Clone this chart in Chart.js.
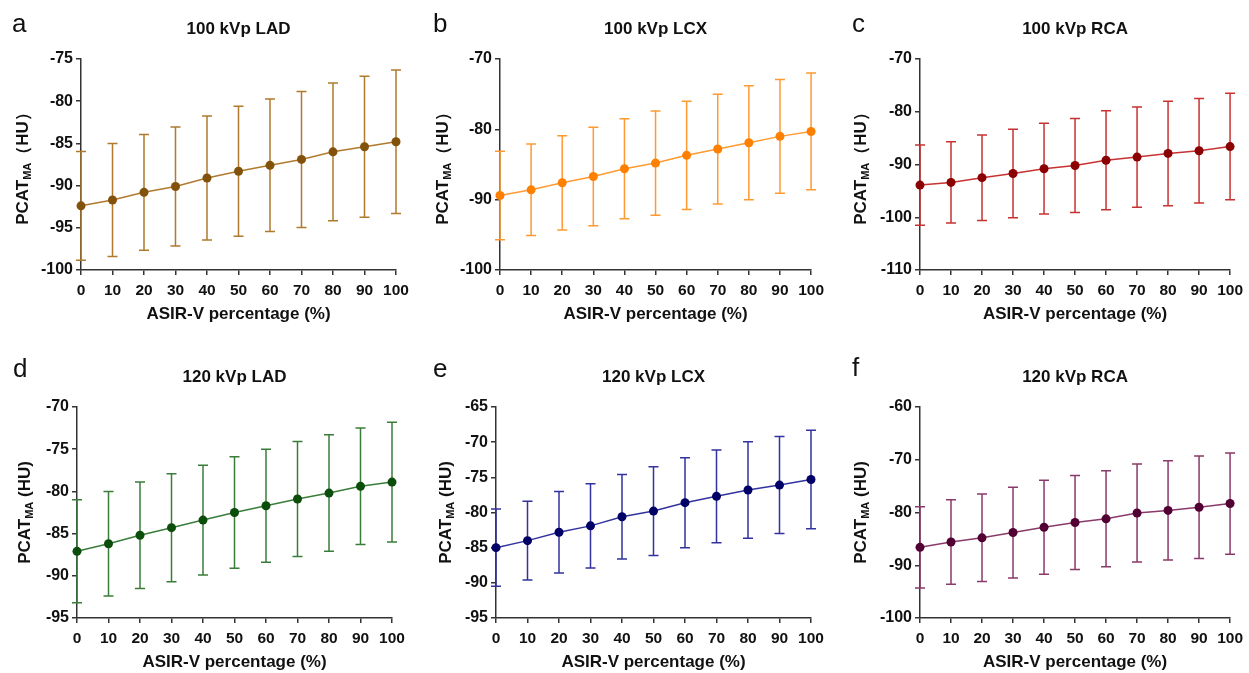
<!DOCTYPE html>
<html>
<head>
<meta charset="utf-8">
<script src="https://cdn.jsdelivr.net/npm/chart.js@4.4.1/dist/chart.umd.min.js"></script>
<style>
  html, body { margin: 0; padding: 0; background: #fff; overflow: hidden; width: 1249px; height: 673px; }
  .panel { position: absolute; }
</style>
</head>
<body>
<div id="wrap"></div>
<script>
// ASIR-V levels (x axis)
const asirLevels = [0, 10, 20, 30, 40, 50, 60, 70, 80, 90, 100];

// mean PCAT_MA and SD per panel (HU)
const mean100LAD = [-92.4, -91.7, -90.8, -90.1, -89.1, -88.3, -87.6, -86.9, -86.0, -85.4, -84.8];
const sd100LAD   = [6.45, 6.7, 6.85, 7.05, 7.35, 7.7, 7.85, 8.05, 8.15, 8.35, 8.5];
const mean100LCX = [-89.4, -88.6, -87.6, -86.7, -85.6, -84.8, -83.7, -82.8, -81.9, -81.0, -80.3];
const sd100LCX   = [6.3, 6.5, 6.7, 7.0, 7.1, 7.4, 7.7, 7.8, 8.1, 8.1, 8.3];
const mean100RCA = [-93.9, -93.4, -92.5, -91.7, -90.8, -90.2, -89.2, -88.6, -87.9, -87.4, -86.6];
const sd100RCA   = [7.6, 7.7, 8.1, 8.4, 8.6, 8.9, 9.4, 9.5, 9.9, 9.9, 10.1];
const mean120LAD = [-87.1, -86.2, -85.2, -84.3, -83.4, -82.5, -81.7, -80.9, -80.2, -79.4, -78.9];
const sd120LAD   = [6.1, 6.2, 6.3, 6.4, 6.5, 6.6, 6.7, 6.8, 6.9, 6.9, 7.1];
const mean120LCX = [-85.0, -84.0, -82.8, -81.9, -80.6, -79.8, -78.6, -77.7, -76.8, -76.1, -75.3];
const sd120LCX   = [5.5, 5.6, 5.8, 6.0, 6.0, 6.3, 6.4, 6.6, 6.85, 6.9, 7.0];
const mean120RCA = [-86.6, -85.6, -84.8, -83.8, -82.8, -81.9, -81.2, -80.1, -79.6, -79.0, -78.3];
const sd120RCA   = [7.7, 8.0, 8.3, 8.6, 8.9, 8.9, 9.1, 9.3, 9.4, 9.7, 9.6];

const panelTitles = ['100 kVp LAD', '100 kVp LCX', '100 kVp RCA', '120 kVp LAD', '120 kVp LCX', '120 kVp RCA'];
const panelLetters = ['a', 'b', 'c', 'd', 'e', 'f'];
const yMins  = [-100, -100, -110, -95, -95, -100];
const yMaxs  = [-75, -70, -70, -70, -65, -60];
const ySteps = [5, 10, 10, 5, 5, 10];
const xTitle = 'ASIR-V percentage (%)';

const means = [mean100LAD, mean100LCX, mean100RCA, mean120LAD, mean120LCX, mean120RCA];
const sds   = [sd100LAD, sd100LCX, sd100RCA, sd120LAD, sd120LCX, sd120RCA];

// colours: dots / line+bars
const dotColors = ['#83520a', '#ff8000', '#8b0000', '#0b4d0b', '#000066', '#520033'];
const barColors = ['#b07a2e', '#ff9a33', '#c83232', '#3a7d3a', '#3333a0', '#8a3a6a'];

// where each panel sits on the page (plotL/plotR = chart area edges, page px)
const frames = [
  { left: 0,   top: 0,   w: 420, plotL: 81,  plotR: 396,  ytx: 28, lx: 12, ly: 32, wide: true },
  { left: 420, top: 0,   w: 410, plotL: 500, plotR: 815,  ytx: 28, lx: 13, ly: 32, wide: true },
  { left: 830, top: 0,   w: 419, plotL: 920, plotR: 1234, ytx: 36, lx: 22, ly: 32, wide: true },
  { left: 0,   top: 348, w: 420, plotL: 77,  plotR: 392,  ytx: 30, lx: 13, ly: 29, wide: false },
  { left: 420, top: 348, w: 410, plotL: 496, plotR: 811,  ytx: 31, lx: 13, ly: 29, wide: false },
  { left: 830, top: 348, w: 419, plotL: 920, plotR: 1234, ytx: 36, lx: 22, ly: 28, wide: false }
];
const H = 330;
const FONT = "'Liberation Sans', Arial, sans-serif";

// error bars under the points, letter + y title with subscript
const decorPlugin = {
  id: 'decor',
  beforeDatasetsDraw(chart) {
    const o = chart.options.plugins.decor;
    const xs = chart.scales.x, ys = chart.scales.y;
    const ctx = chart.ctx;
    ctx.save();
    ctx.strokeStyle = o.barColor;
    ctx.lineWidth = 1.5;
    o.mean.forEach((m, i) => {
      const x = xs.getPixelForValue(asirLevels[i]);
      const yHi = ys.getPixelForValue(m + o.sd[i]);
      const yLo = ys.getPixelForValue(m - o.sd[i]);
      ctx.beginPath();
      ctx.moveTo(x, yHi); ctx.lineTo(x, yLo);
      ctx.moveTo(x - 5, yHi); ctx.lineTo(x + 5, yHi);
      ctx.moveTo(x - 5, yLo); ctx.lineTo(x + 5, yLo);
      ctx.stroke();
    });
    ctx.restore();
  },
  afterDraw(chart) {
    const o = chart.options.plugins.decor;
    const ctx = chart.ctx;
    const ca = chart.chartArea;
    ctx.save();
    ctx.fillStyle = '#111';
    ctx.font = '26px ' + FONT;
    ctx.textBaseline = 'alphabetic';
    ctx.fillText(o.letter, o.lx, o.ly);

    // rotated y title: PCAT + subscript MA + (HU)
    ctx.translate(o.ytx, (ca.top + ca.bottom) / 2);
    ctx.rotate(-Math.PI / 2);
    const big = 'bold 17px ' + FONT;
    const small = 'bold 11px ' + FONT;
    const tail = o.wide ? '（HU）' : ' (HU)';
    ctx.font = big; const w1 = ctx.measureText('PCAT').width;
    const w3 = ctx.measureText(tail).width;
    ctx.font = small; const w2 = ctx.measureText('MA').width;
    let x = -(w1 + w2 + w3) / 2;
    ctx.font = big; ctx.fillText('PCAT', x, 0); x += w1;
    ctx.font = small; ctx.fillText('MA', x, 3); x += w2;
    ctx.font = big; ctx.fillText(tail, x, 0);
    ctx.restore();
  }
};

frames.forEach((f, p) => {
  const div = document.createElement('div');
  div.className = 'panel';
  div.style.left = f.left + 'px';
  div.style.top = f.top + 'px';
  const cv = document.createElement('canvas');
  cv.width = f.w; cv.height = H;
  cv.style.width = f.w + 'px'; cv.style.height = H + 'px';
  div.appendChild(cv);
  document.getElementById('wrap').appendChild(div);

  const yAxisW = f.plotL - f.left;
  const padRight = f.left + f.w - f.plotR;

  new Chart(cv.getContext('2d'), {
    type: 'line',
    data: {
      datasets: [{
        data: asirLevels.map((x, i) => ({ x: x, y: means[p][i] })),
        borderColor: barColors[p],
        borderWidth: 1.5,
        pointRadius: 4.5,
        pointBackgroundColor: dotColors[p],
        pointBorderWidth: 0,
        tension: 0,
        clip: false
      }]
    },
    options: {
      responsive: false,
      animation: false,
      events: [],
      layout: { padding: { left: 0, right: padRight, top: 0, bottom: 0 } },
      plugins: {
        legend: { display: false },
        tooltip: { enabled: false },
        title: {
          display: true, text: panelTitles[p], fullSize: false,
          color: '#111', font: { family: FONT, size: 17, weight: 'bold' },
          padding: { top: 19, bottom: 19.6 }
        },
        decor: {
          mean: means[p], sd: sds[p], barColor: barColors[p],
          letter: panelLetters[p], lx: f.lx, ly: f.ly, ytx: f.ytx, wide: f.wide
        }
      },
      scales: {
        x: {
          type: 'linear', min: 0, max: 100,
          afterFit(scale) { scale.height = 60; },
          ticks: { stepSize: 10, color: '#111', padding: 6, maxRotation: 0, autoSkip: false,
                   font: { family: FONT, size: 15.5, weight: 'bold' } },
          grid: { drawOnChartArea: false, drawTicks: true, tickLength: 5, color: '#333', lineWidth: 1.5 },
          border: { display: true, color: '#333', width: 1.5 },
          title: { display: true, text: xTitle, color: '#111', padding: { top: 0, bottom: 5 },
                   font: { family: FONT, size: 17, weight: 'bold' } }
        },
        y: {
          min: yMins[p], max: yMaxs[p],
          afterFit(scale) { scale.width = yAxisW; },
          ticks: { stepSize: ySteps[p], color: '#111', padding: 3,
                   font: { family: FONT, size: 16, weight: 'bold' } },
          grid: { drawOnChartArea: false, drawTicks: true, tickLength: 5, color: '#333', lineWidth: 1.5 },
          border: { display: true, color: '#333', width: 1.5 }
        }
      }
    },
    plugins: [decorPlugin]
  });
});
</script>
</body>
</html>
